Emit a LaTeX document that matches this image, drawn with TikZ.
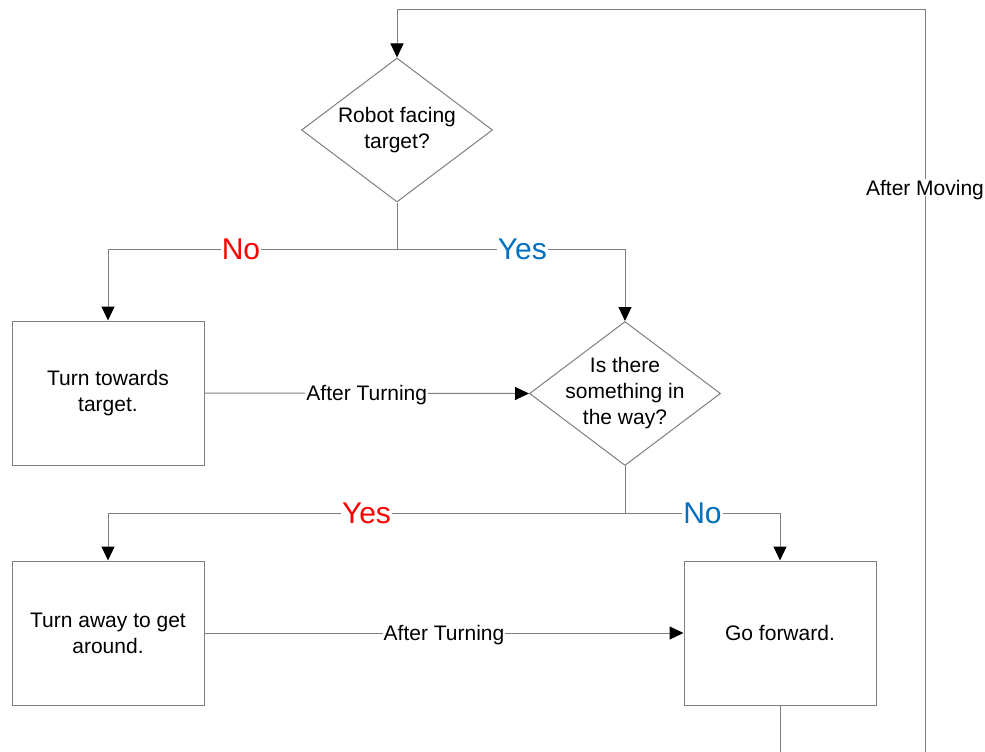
\documentclass[tikz,border=0pt]{standalone}
\usepackage{fontspec}
\setmainfont{Liberation Sans}
\usetikzlibrary{shapes.geometric, arrows.meta}
\definecolor{linecol}{HTML}{7F7F7F}
\definecolor{branchred}{HTML}{FF0000}
\definecolor{branchblue}{HTML}{0070C0}
\tikzstyle{process} = [rectangle, minimum width=192pt, minimum height=144pt, text centered, align=center, draw=linecol, line width=1pt, font=\fontsize{21}{26}\selectfont]
\tikzstyle{decision} = [diamond, minimum width=191pt, minimum height=144pt, inner sep=0pt, draw=linecol, line width=1pt]
\tikzstyle{question} = [align=center, font=\fontsize{21}{26}\selectfont]
\tikzstyle{line} = [draw=linecol, line width=1pt]
\tikzstyle{arrow} = [line, -{Triangle[length=14pt, width=13pt, color=black]}]
\tikzstyle{edgelabel} = [fill=white, inner sep=1pt, text depth=0pt, font=\fontsize{21}{26}\selectfont]
\tikzstyle{branch} = [fill=white, inner sep=1pt, font=\fontsize{30}{36}\selectfont]

\begin{document}
\begin{tikzpicture}[x=1pt, y=-1pt]
    \useasboundingbox (0,0) rectangle (985,752);
    \node (facing) [decision] at (397,130) {};
    \node (facingtext) [question] at (facing) {Robot facing\\target?};
    \node (turn) [process] at (108,393) {Turn towards\\target.};
    \node (way) [decision] at (625,393.5) {};
    \node (waytext) [question] at (way) {Is there\\something in\\the way?};
    \node (away) [process] at (108,633) {Turn away to get\\around.};
    \node (forward) [process] at (780,633) {Go forward.};

    \coordinate (split1) at (397,249);
    \coordinate (split2) at (625,513);
    \coordinate (loopbottom) at (925,770);
    \coordinate (looptop) at (397,10);

    \draw [line] (facing.south) -- (split1);
    \draw [arrow] (split1) -| node[branch, pos=0.27, text=branchred] {No} (turn.north);
    \draw [arrow] (split1) -| node[branch, pos=0.275, text=branchblue] {Yes} (way.north);
    \draw [arrow] (turn.east) -- node[edgelabel] {After Turning} (way.west);
    \draw [line] (way.south) -- (split2);
    \draw [arrow] (split2) -| node[branch, pos=0.25, text=branchred] {Yes} (away.north);
    \draw [arrow] (split2) -| node[branch, pos=0.25, text=branchblue] {No} (forward.north);
    \draw [arrow] (away.east) -- node[edgelabel] {After Turning} (forward.west);
    \draw [arrow] (forward.south) |- (loopbottom) |- node[edgelabel, pos=0.383] {After Moving} (looptop) -- (facing.north);
\end{tikzpicture}
\end{document}
